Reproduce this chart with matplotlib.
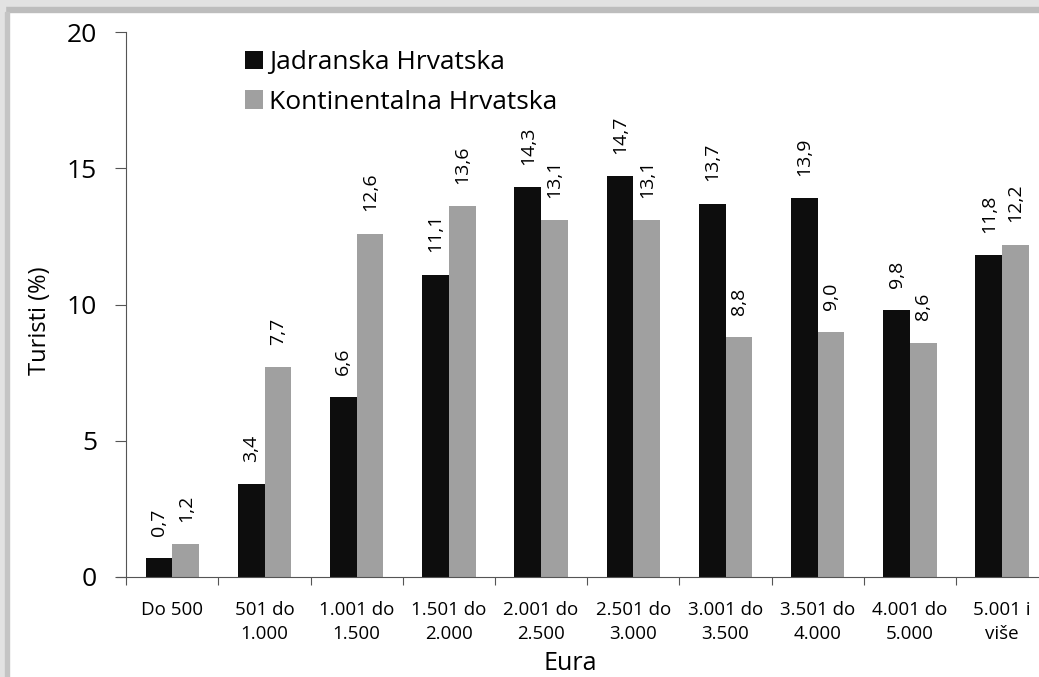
import matplotlib.pyplot as plt
from matplotlib.patches import Rectangle

plt.rcParams['font.family'] = ['Open Sans', 'DejaVu Sans']

# ── Data ──────────────────────────────────────────────────────────────────────
categories = ["Do 500", "501 do\n1.000", "1.001 do\n1.500", "1.501 do\n2.000",
              "2.001 do\n2.500", "2.501 do\n3.000", "3.001 do\n3.500",
              "3.501 do\n4.000", "4.001 do\n5.000", "5.001 i\nviše"]
jadranska = [0.7, 3.4, 6.6, 11.1, 14.3, 14.7, 13.7, 13.9, 9.8, 11.8]
kontinentalna = [1.2, 7.7, 12.6, 13.6, 13.1, 13.1, 8.8, 9.0, 8.6, 12.2]
series_names = ["Jadranska Hrvatska", "Kontinentalna Hrvatska"]
yticks = [0, 5, 10, 15, 20]

fig = plt.figure(figsize=(10.39, 6.77), dpi=100)

# shadowed frame on top and left
H, W = 677, 1039
fig.patches.append(Rectangle((0, 1 - 7 / H), 1, 7 / H, transform=fig.transFigure,
                             color="#e2e2e2", zorder=0))
fig.patches.append(Rectangle((0, 1 - 12 / H), 1, 5 / H, transform=fig.transFigure,
                             color="#bdbdbd", zorder=0))
fig.patches.append(Rectangle((0, 0), 5 / W, 1, transform=fig.transFigure,
                             color="#e2e2e2", zorder=0))
fig.patches.append(Rectangle((5 / W, 0), 4 / W, 1 - 12 / H, transform=fig.transFigure,
                             color="#c4c4c4", zorder=0))

ax = fig.add_axes([117 / W, 100 / H, 922 / W, 545 / H])

x = list(range(len(categories)))
w = 0.29
b1 = ax.bar([i - w / 2 for i in x], jadranska, w, color="#0d0d0d", label=series_names[0])
b2 = ax.bar([i + w / 2 for i in x], kontinentalna, w, color="#a0a0a0", label=series_names[1])

for bars, vals in ((b1, jadranska), (b2, kontinentalna)):
    for bar, v in zip(bars, vals):
        ax.annotate(f"{v:.1f}".replace(".", ","),
                    (bar.get_x() + bar.get_width() / 2, v),
                    xytext=(0, 16), textcoords="offset points",
                    rotation=90, ha="center", va="bottom", fontsize=14)

ax.spines["top"].set_visible(False)
ax.spines["right"].set_visible(False)
ax.spines["left"].set_position(("data", -0.5))
ax.spines["left"].set_color("#555555")
ax.spines["bottom"].set_color("#555555")

ax.set_xlim(-0.6, 9.4)
ax.set_ylim(0, 20)
ax.set_yticks(yticks)
ax.set_yticklabels([str(t) for t in yticks])
ax.set_xticks([i - 0.5 for i in x])
ax.set_xticklabels([])
ax.set_xticks(x, minor=True)
ax.set_xticklabels(categories, minor=True, linespacing=1.45)
ax.tick_params(axis="x", which="minor", length=0, pad=17, labelsize=13.5)
ax.tick_params(axis="x", which="major", length=6, color="#555555")
ax.tick_params(axis="y", length=8, color="#555555", pad=13, labelsize=19)

ax.set_ylabel("Turisti (%)", fontsize=17)
ax.yaxis.set_label_coords(-0.07, 0.47)
fig.text(570 / W, 1 - 663 / H, "Eura", ha="center", va="center", fontsize=18)

ax.legend(loc="upper left", bbox_to_anchor=(0.113, 1.01), frameon=False,
          fontsize=19, handlelength=0.7, handleheight=0.7, handletextpad=0.2,
          labelspacing=0.55)

plt.savefig("out.png", dpi=100)
